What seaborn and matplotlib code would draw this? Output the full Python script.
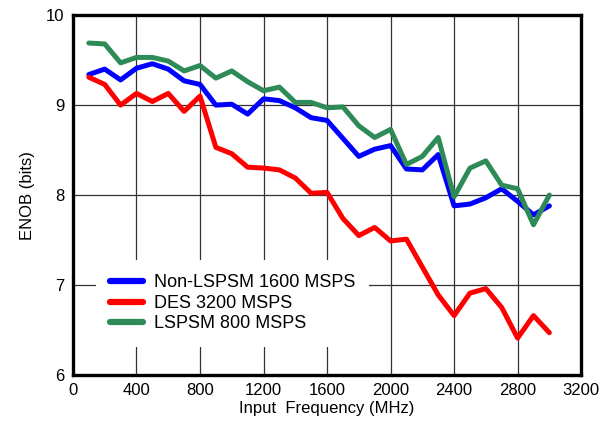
"""ENOB vs input frequency for three sampling modes."""

import matplotlib
matplotlib.use("Agg")
import matplotlib.pyplot as plt
import pandas as pd
import seaborn as sns

freq_mhz = list(range(100, 3001, 100))

enob_non_lspsm_1600 = [
    9.34, 9.40, 9.28, 9.41, 9.46, 9.40, 9.27, 9.23, 9.00, 9.01,
    8.90, 9.07, 9.05, 8.97, 8.86, 8.83, 8.63, 8.43, 8.51, 8.55,
    8.29, 8.28, 8.45, 7.88, 7.90, 7.97, 8.07, 7.93, 7.78, 7.88,
]
enob_des_3200 = [
    9.31, 9.23, 9.00, 9.13, 9.04, 9.13, 8.93, 9.10, 8.53, 8.46,
    8.31, 8.30, 8.28, 8.19, 8.02, 8.03, 7.74, 7.55, 7.64, 7.49,
    7.51, 7.20, 6.89, 6.66, 6.91, 6.96, 6.75, 6.41, 6.66, 6.47,
]
enob_lspsm_800 = [
    9.69, 9.68, 9.47, 9.53, 9.53, 9.49, 9.38, 9.44, 9.30, 9.38,
    9.26, 9.16, 9.20, 9.03, 9.03, 8.97, 8.98, 8.77, 8.64, 8.73,
    8.34, 8.43, 8.64, 7.98, 8.30, 8.38, 8.11, 8.07, 7.67, 8.00,
]

series_names = ["Non-LSPSM 1600 MSPS", "DES 3200 MSPS", "LSPSM 800 MSPS"]
series_colors = ["#0000ff", "#ff0000", "#2e8b57"]

df = pd.concat(
    [
        pd.DataFrame({"freq": freq_mhz, "enob": vals, "mode": name})
        for name, vals in zip(series_names,
                              [enob_non_lspsm_1600, enob_des_3200, enob_lspsm_800])
    ],
    ignore_index=True,
)

sns.set_style("white")
plt.rcParams["font.family"] = ["Liberation Sans", "DejaVu Sans"]
plt.rcParams["text.color"] = "black"
plt.rcParams["axes.labelcolor"] = "black"
plt.rcParams["xtick.color"] = "black"
plt.rcParams["ytick.color"] = "black"

fig = plt.figure(figsize=(6.13, 4.33), dpi=100)
ax = fig.add_axes([0.119, 0.134, 0.829, 0.831])

sns.lineplot(
    data=df, x="freq", y="enob", hue="mode",
    hue_order=series_names, palette=series_colors,
    linewidth=3.6, ax=ax, zorder=3,
)

ax.set_xlim(0, 3200)
ax.set_ylim(6, 10)
ax.set_xticks(range(0, 3201, 400))
ax.set_yticks(range(6, 11))
ax.grid(True, color="#333333", linewidth=0.9)
ax.tick_params(length=0, labelsize=12, pad=6, colors="black")

for spine in ax.spines.values():
    spine.set_visible(True)
    spine.set_color("black")
    spine.set_linewidth(2.4)

ax.set_xlabel("Input  Frequency (MHz)", fontsize=12, labelpad=2, color="black")
ax.set_ylabel("ENOB (bits)", fontsize=12, labelpad=8, color="black")

leg = ax.legend(
    loc="lower left", bbox_to_anchor=(0.045, 0.078),
    fontsize=13, frameon=True, fancybox=False, framealpha=1,
    handlelength=1.8, handletextpad=0.6, labelspacing=0.2,
    borderpad=0.8, borderaxespad=0,
)
leg.get_frame().set_edgecolor("none")
leg.get_frame().set_facecolor("white")
for line in leg.get_lines():
    line.set_linewidth(4.5)
for txt in leg.get_texts():
    txt.set_color("black")

plt.savefig("out.png", dpi=100)
plt.close()
